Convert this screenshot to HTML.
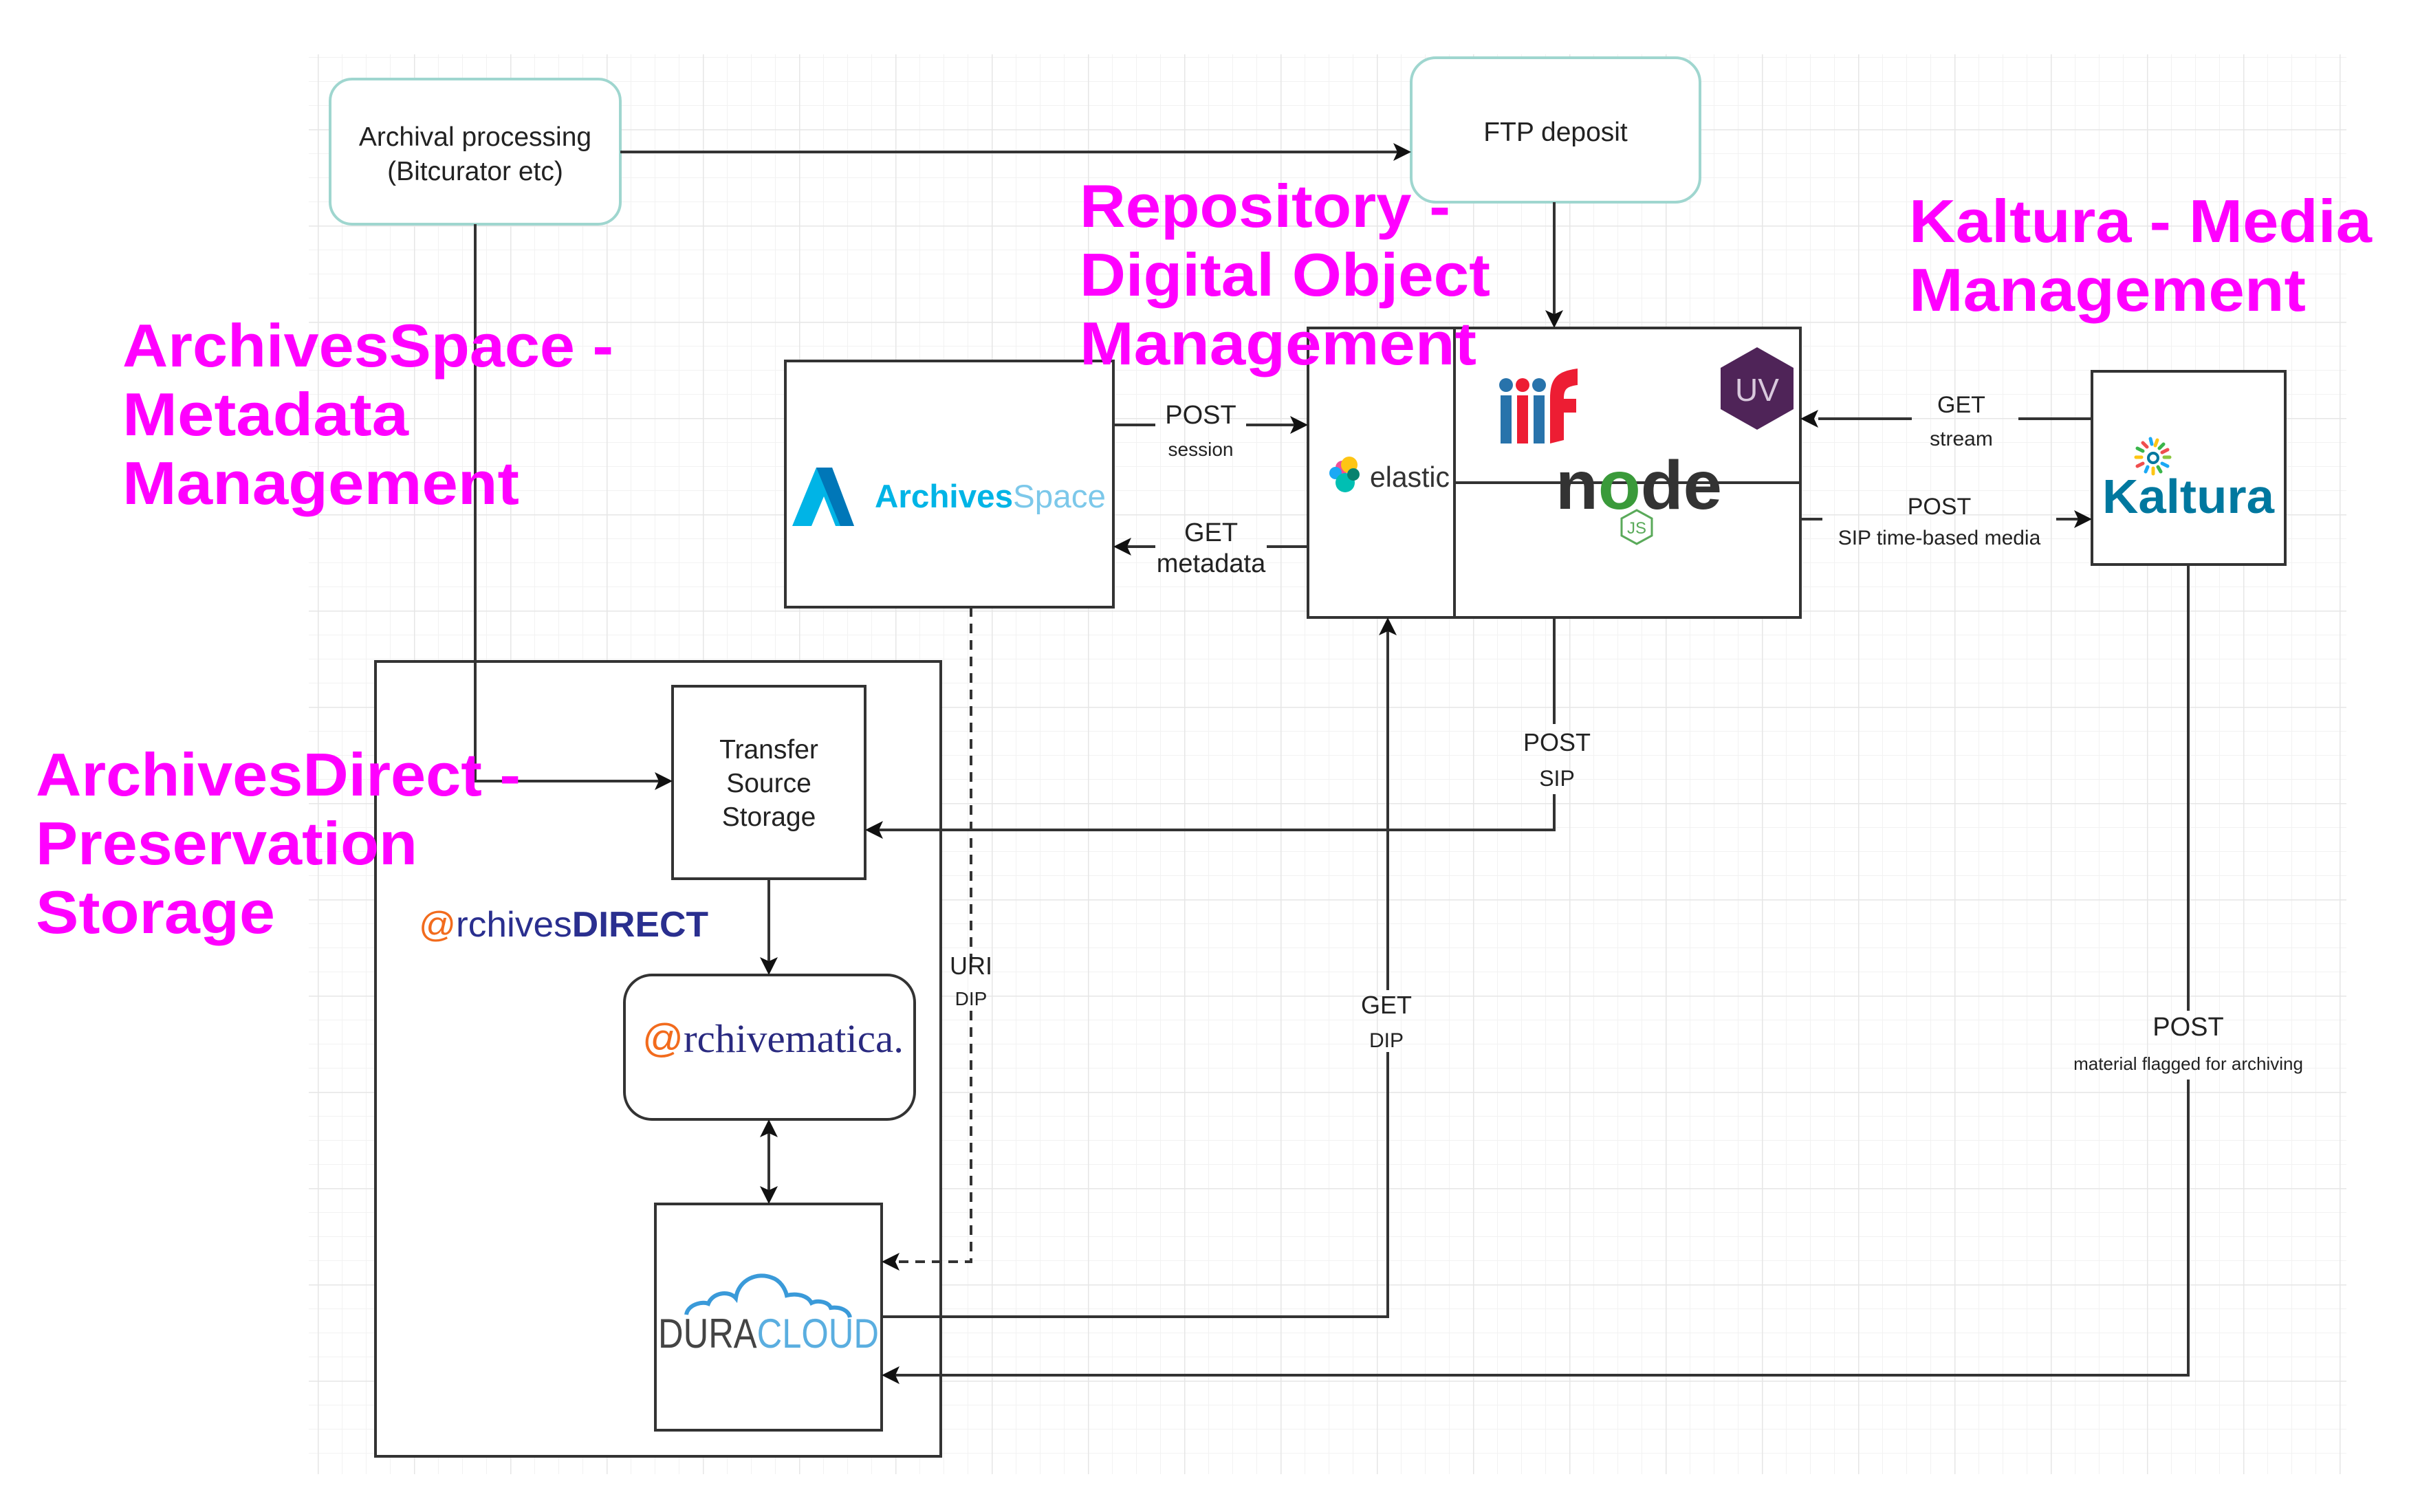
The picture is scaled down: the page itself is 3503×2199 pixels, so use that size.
<!DOCTYPE html>
<html><head><meta charset="utf-8"><style>
html,body{margin:0;padding:0;background:#fff;}
svg{display:block;}
</style></head><body>
<svg width="3503" height="2199" viewBox="0 0 3503 2199" xmlns="http://www.w3.org/2000/svg" font-family="Liberation Sans, sans-serif">
<defs>
<pattern id="minor" x="462" y="188" width="35" height="35" patternUnits="userSpaceOnUse">
<path d="M0 0V35M0 0H35" stroke="#f2f2f2" stroke-width="2" fill="none"/>
</pattern>
<pattern id="major" x="462" y="188" width="140" height="140" patternUnits="userSpaceOnUse">
<path d="M0 0V140M0 0H140" stroke="#e6e6e6" stroke-width="3" fill="none"/>
</pattern>
</defs>
<rect x="449" y="79" width="2963" height="2065" fill="url(#minor)"/>
<rect x="449" y="79" width="2963" height="2065" fill="url(#major)"/>

<g fill="#fff" stroke="#333" stroke-width="4">
<rect x="480" y="115" width="422" height="211" rx="32" stroke="#9fd6cf"/>
<rect x="2052" y="84" width="420" height="210" rx="36" stroke="#9fd6cf"/>
<rect x="1142" y="525" width="477" height="358"/>
<rect x="1902" y="477" width="716" height="421"/>
<rect x="3042" y="540" width="281" height="281"/>
<rect x="546" y="962" width="822" height="1156"/>
<rect x="978" y="998" width="280" height="280"/>
<rect x="908" y="1418" width="422" height="210" rx="40"/>
<rect x="953" y="1751" width="329" height="329"/>
</g>
<g stroke="#333" stroke-width="4" fill="none">
<line x1="2115" y1="477" x2="2115" y2="898"/>
<line x1="2115" y1="702" x2="2618" y2="702"/>
<path d="M902 221H2040"/>
<path d="M691 326V1136H965"/>
<path d="M2260 294V465"/>
<path d="M1619 618H1680M1812 618H1890"/>
<path d="M1902 795H1842M1680 795H1632"/>
<path d="M3042 609H2935M2780 609H2644"/>
<path d="M2618 755H2650M2990 755H3030"/>
<path d="M2260 898V1053M2260 1155V1207H1272"/>
<path d="M1282 1915H2018V1530M2018 1440V912"/>
<path d="M3182 821V1470M3182 1570V2000H1296"/>
<path d="M1118 1278V1405"/>
<path d="M1118 1645V1738"/>
<path d="M1412 883V1400M1412 1470V1835H1296" stroke-dasharray="14 10"/>
</g>
<g fill="#111">
<path d="M2052 221l-26-13 6 13-6 13z"/>
<path d="M978 1136l-26-13 6 13-6 13z"/>
<path d="M2260 477l-13-26 13 6 13-6z"/>
<path d="M1902 618l-26-13 6 13-6 13z"/>
<path d="M1619 795l26-13-6 13 6 13z"/>
<path d="M2618 609l26-13-6 13 6 13z"/>
<path d="M3042 755l-26-13 6 13-6 13z"/>
<path d="M1258 1207l26-13-6 13 6 13z"/>
<path d="M2018 898l-13 26 13-6 13 6z"/>
<path d="M1282 2000l26-13-6 13 6 13z"/>
<path d="M1282 1835l26-13-6 13 6 13z"/>
<path d="M1118 1418l-13-26 13 6 13-6z"/>
<path d="M1118 1628l-13 26 13-6 13 6z"/>
<path d="M1118 1751l-13-26 13 6 13-6z"/>
</g>

<g fill="#222" text-anchor="middle" font-size="39">
<text x="691" y="212">Archival processing</text>
<text x="691" y="262">(Bitcurator etc)</text>
<text x="2262" y="205">FTP deposit</text>
<text x="1118" y="1103">Transfer</text>
<text x="1118" y="1152">Source</text>
<text x="1118" y="1201">Storage</text>
<text x="1746" y="616" font-size="38">POST</text>
<text x="1746" y="663" font-size="28">session</text>
<text x="1761" y="787" font-size="38">GET</text>
<text x="1761" y="832" font-size="38">metadata</text>
<text x="2852" y="600" font-size="34">GET</text>
<text x="2852" y="648" font-size="30">stream</text>
<text x="2820" y="748" font-size="34">POST</text>
<text x="2820" y="792" font-size="30">SIP time-based media</text>
<text x="2264" y="1092" font-size="36">POST</text>
<text x="2264" y="1143" font-size="32">SIP</text>
<text x="1412" y="1417" font-size="36">URI</text>
<text x="1412" y="1462" font-size="28">DIP</text>
<text x="2016" y="1474" font-size="36">GET</text>
<text x="2016" y="1523" font-size="30">DIP</text>
<text x="3182" y="1506" font-size="38">POST</text>
<text x="3182" y="1556" font-size="26">material flagged for archiving</text>
</g>

<g fill="#ff00ff" font-weight="bold" font-size="88">
<text x="178" y="533" textLength="714" lengthAdjust="spacingAndGlyphs">ArchivesSpace -</text>
<text x="178" y="633" textLength="416" lengthAdjust="spacingAndGlyphs">Metadata</text>
<text x="178" y="733" textLength="577" lengthAdjust="spacingAndGlyphs">Management</text>
<text x="1570" y="330" textLength="539" lengthAdjust="spacingAndGlyphs">Repository -</text>
<text x="1570" y="430" textLength="597" lengthAdjust="spacingAndGlyphs">Digital Object</text>
<text x="1570" y="530" textLength="577" lengthAdjust="spacingAndGlyphs">Management</text>
<text x="2776" y="352" textLength="673" lengthAdjust="spacingAndGlyphs">Kaltura - Media</text>
<text x="2776" y="452" textLength="577" lengthAdjust="spacingAndGlyphs">Management</text>
<text x="52" y="1157" textLength="705" lengthAdjust="spacingAndGlyphs">ArchivesDirect -</text>
<text x="52" y="1257" textLength="555" lengthAdjust="spacingAndGlyphs">Preservation</text>
<text x="52" y="1357" textLength="348" lengthAdjust="spacingAndGlyphs">Storage</text>
</g>

<path d="M1152 765L1187 680H1210L1242 765H1215L1198 722L1180 765Z" fill="#00b4e6"/>
<path d="M1187 680H1210L1242 765H1222Z" fill="#0077b8"/>
<text x="1272" y="738" font-size="47" font-weight="bold" fill="#00b4e6" textLength="336" lengthAdjust="spacingAndGlyphs">Archives<tspan font-weight="normal" fill="#7cc8ea">Space</tspan></text>

<circle cx="1952" cy="680" r="10" fill="#f04e98"/>
<circle cx="1962" cy="676" r="12" fill="#fec514"/>
<circle cx="1942" cy="688" r="9" fill="#1ba9f5" />
<circle cx="1956" cy="702" r="14" fill="#00bfb3"/>
<circle cx="1968" cy="690" r="9" fill="#07826f"/>
<text x="1992" y="708" font-size="42" fill="#333" textLength="116" lengthAdjust="spacingAndGlyphs">elastic</text>

<g>
<rect x="2182" y="575" width="16" height="70" fill="#2873ab"/><circle cx="2190" cy="560" r="10" fill="#2873ab"/>
<rect x="2206" y="575" width="16" height="70" fill="#ed1d33"/><circle cx="2214" cy="560" r="10" fill="#ed1d33"/>
<rect x="2230" y="575" width="16" height="70" fill="#2873ab"/><circle cx="2238" cy="560" r="10" fill="#2873ab"/>
<path d="M2254 645V580C2254 550 2264 540 2294 536V560C2278 562 2274 566 2274 580H2292V600H2274V640Z" fill="#ed1d33"/>
</g>

<polygon points="2555,505 2608,535 2608,595 2555,625 2502,595 2502,535" fill="#4f2458"/>
<text x="2555" y="583" font-size="46" fill="#d8c8dc" text-anchor="middle">UV</text>

<text x="2262" y="740" font-size="100" font-weight="bold" fill="#333" textLength="242" lengthAdjust="spacingAndGlyphs">n<tspan fill="#3a9a3a">o</tspan>de</text>
<polygon points="2380,742 2402,754 2402,779 2380,791 2358,779 2358,754" fill="#fff" stroke="#5aaa5a" stroke-width="3"/>
<text x="2380" y="776" font-size="24" fill="#5aaa5a" text-anchor="middle">JS</text>

<g stroke-width="5" stroke-linecap="round">
<line x1="3127" y1="638" x2="3129" y2="646" stroke="#1ba9f5"/>
<line x1="3137" y1="640" x2="3134" y2="648" stroke="#fec514"/>
<line x1="3116" y1="644" x2="3122" y2="650" stroke="#f04e4e"/>
<line x1="3146" y1="646" x2="3140" y2="652" stroke="#3ab54a"/>
<line x1="3108" y1="652" x2="3116" y2="656" stroke="#3ab54a"/>
<line x1="3152" y1="654" x2="3144" y2="658" stroke="#f04e4e"/>
<line x1="3106" y1="665" x2="3114" y2="665" stroke="#fec514"/>
<line x1="3155" y1="665" x2="3147" y2="665" stroke="#8cc63f"/>
<line x1="3108" y1="678" x2="3116" y2="674" stroke="#f04e4e"/>
<line x1="3152" y1="678" x2="3144" y2="674" stroke="#1ba9f5"/>
<line x1="3120" y1="686" x2="3123" y2="679" stroke="#1ba9f5"/>
<line x1="3142" y1="686" x2="3138" y2="679" stroke="#3ab54a"/>
<line x1="3131" y1="689" x2="3131" y2="681" stroke="#fec514"/>
</g>
<circle cx="3131" cy="666" r="7" fill="none" stroke="#00789f" stroke-width="4"/>
<text x="3057" y="746" font-size="70" font-weight="bold" fill="#00789f" textLength="250" lengthAdjust="spacingAndGlyphs">Kaltura</text>

<text x="609" y="1362" font-size="52" fill="#2a2f8f" textLength="421" lengthAdjust="spacingAndGlyphs"><tspan fill="#f26b1d">@</tspan>rchives<tspan font-weight="bold">DIRECT</tspan></text>

<text x="934" y="1530" font-size="58" fill="#2a2a80" font-family="Liberation Serif, serif" textLength="380" lengthAdjust="spacingAndGlyphs"><tspan fill="#f26b1d" font-family="Liberation Sans, sans-serif">@</tspan>rchivematica.</text>

<path d="M998 1912C1000 1898 1020 1892 1030 1896C1036 1880 1060 1876 1070 1888C1074 1860 1102 1850 1122 1858C1135 1862 1142 1875 1144 1884C1160 1880 1175 1885 1180 1895C1190 1890 1205 1894 1208 1902C1222 1900 1234 1906 1236 1916" fill="none" stroke="#3a9ad9" stroke-width="6"/>
<text x="957" y="1960" font-size="60" fill="#444" textLength="321" lengthAdjust="spacingAndGlyphs">DURA<tspan fill="#5aaee0">CLOUD</tspan></text>
</svg>
</body></html>
